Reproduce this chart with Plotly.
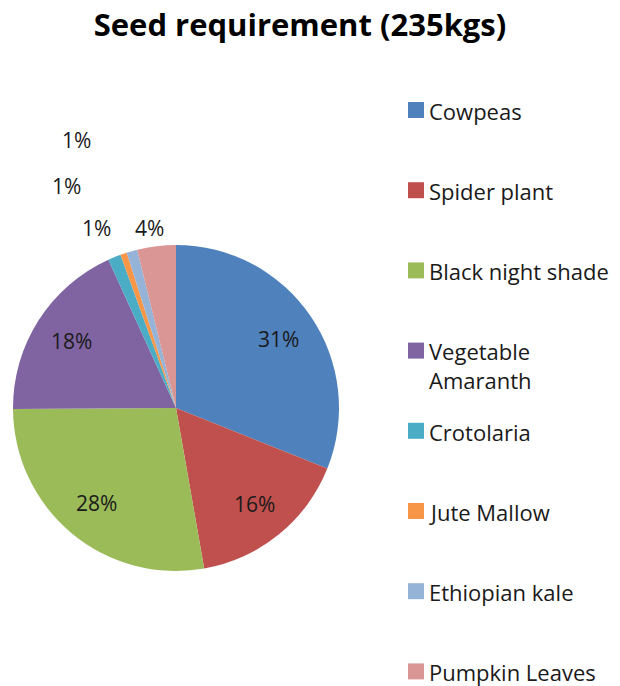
import math
import plotly.graph_objects as go

# Seed quantities (kg) per crop, total 235 kg
crops = ["Cowpeas", "Spider plant", "Black night shade", "Vegetable Amaranth",
         "Crotolaria", "Jute Mallow", "Ethiopian kale", "Pumpkin Leaves"]
legend_text = ["Cowpeas", "Spider plant", "Black night shade", "Vegetable<br>Amaranth",
               "Crotolaria", "Jute Mallow", "Ethiopian kale", "Pumpkin Leaves"]
seed_kg = [73, 38, 65, 43, 3, 1.5, 2.5, 9]
colors = ["#4F81BD", "#C0504D", "#9BBB59", "#8064A2",
          "#4BACC6", "#F79646", "#95B3D7", "#D99694"]

W, H = 620, 686
FONT = "Open Sans"
TEXT = "#1a1a1a"

# pie placement in pixels
CX, CY, R = 176, 408, 163


def px(x):
    return x / W


def py(y):
    return 1 - y / H


total = sum(seed_kg)
pct = [v / total for v in seed_kg]
small = [p < 0.05 for p in pct]

fig = go.Figure()
fig.add_trace(go.Pie(
    labels=crops,
    values=seed_kg,
    sort=False,
    direction="clockwise",
    rotation=0,
    marker=dict(colors=colors, line=dict(width=0)),
    textinfo="none",
    domain=dict(x=[px(CX - R), px(CX + R)], y=[py(CY + R), py(CY - R)]),
    showlegend=False,
    hovertemplate="%{label}: %{value} kg (%{percent})<extra></extra>",
))

annotations = []

# percentage labels inside the larger slices, at the middle angle of each slice
cum = 0.0
for i, p in enumerate(pct):
    mid = (cum + p / 2) * 2 * math.pi
    cum += p
    if small[i]:
        continue
    r = 0.76 * R
    x = CX + r * math.sin(mid)
    y = CY - r * math.cos(mid)
    annotations.append(dict(
        x=px(x), y=py(y), xref="paper", yref="paper",
        text=f"{round(p * 100)}%", showarrow=False,
        xanchor="center", yanchor="middle",
        font=dict(family=FONT, size=21, color=TEXT),
    ))

# labels for the thin slices, set above the pie
small_label_pos = {4: (96, 228), 5: (66, 186), 6: (76, 140), 7: (149, 228)}
for i, (x, y) in small_label_pos.items():
    annotations.append(dict(
        x=px(x), y=py(y), xref="paper", yref="paper",
        text=f"{round(pct[i] * 100)}%", showarrow=False,
        xanchor="center", yanchor="middle",
        font=dict(family=FONT, size=21, color=TEXT),
    ))

# legend: colour swatch plus name, one row per crop
shapes = []
row_top, row_step = 110, 80.2
fs = 22
for i, name in enumerate(legend_text):
    yc = row_top + i * row_step
    shapes.append(dict(
        type="rect", xref="paper", yref="paper",
        x0=px(408), x1=px(424), y0=py(yc + 8), y1=py(yc - 8),
        fillcolor=colors[i], line=dict(width=0),
    ))
    annotations.append(dict(
        x=px(428), y=py(yc - fs * 0.65 - 1), xref="paper", yref="paper",
        text=name, showarrow=False, align="left",
        xanchor="left", yanchor="top", borderpad=0,
        font=dict(family=FONT, size=fs, color=TEXT),
    ))

fig.update_layout(
    width=W, height=H,
    margin=dict(l=0, r=0, t=0, b=0),
    paper_bgcolor="white",
    plot_bgcolor="white",
    title=dict(
        text="<b>Seed requirement (235kgs)</b>",
        x=px(300), y=py(25), xanchor="center", yanchor="middle",
        font=dict(family=FONT, size=31, color="#000000"),
    ),
    annotations=annotations,
    shapes=shapes,
)

fig.write_html("out.html")
